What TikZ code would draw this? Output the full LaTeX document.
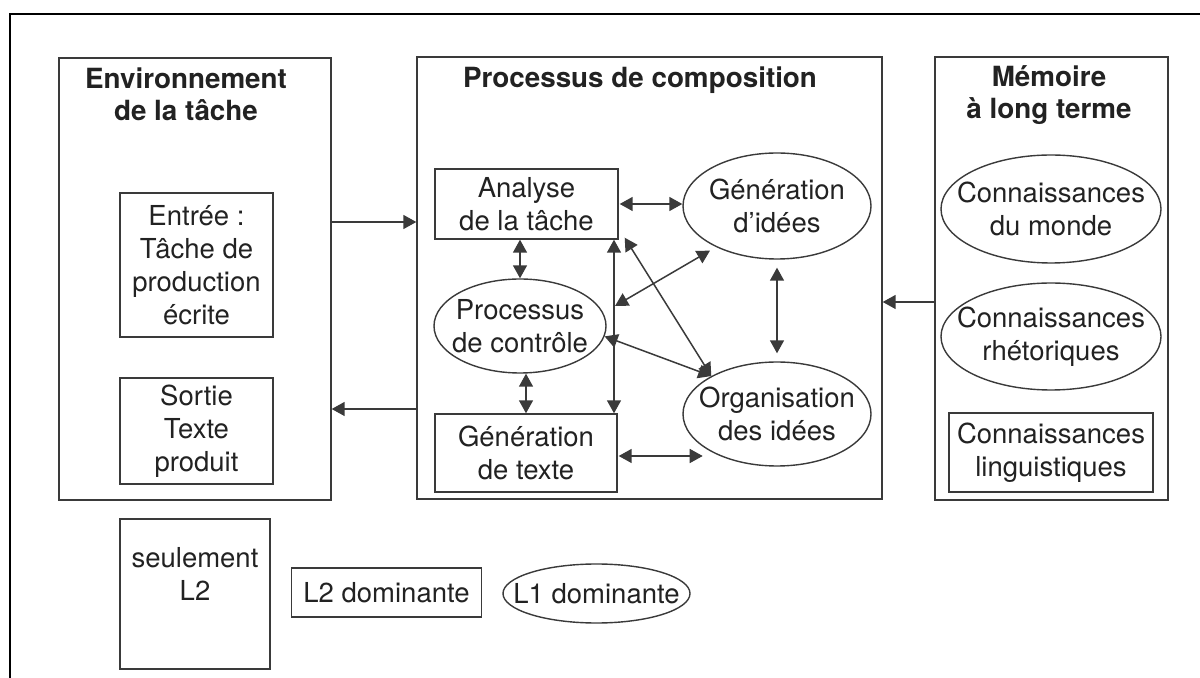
\documentclass[tikz,border=0pt]{standalone}
\usepackage{fontspec}
\setmainfont{TeX Gyre Heros}
\usetikzlibrary{shapes.geometric,arrows.meta,calc}
\definecolor{ln}{HTML}{3A3A3A}
\definecolor{tx}{HTML}{222222}
\newcommand\mybody{\fontsize{13.75}{16.5}\selectfont}
\newcommand\mytitle{\fontsize{13.9}{16}\selectfont\bfseries}
\begin{document}
\begin{tikzpicture}[x=0.5pt,y=-0.5pt,
  box/.style={draw=ln, line width=0.7pt, rectangle, inner sep=0pt, align=center, text=tx, font=\mybody},
  ell/.style={draw=ln, line width=0.7pt, ellipse, inner sep=0pt},
  lbl/.style={align=center, text=tx, font=\mybody, inner sep=0pt},
  ttl/.style={align=center, text=tx, font=\mytitle, inner sep=0pt},
  arr/.style={draw=ln, line width=0.75pt, -{Triangle[length=6.5pt,width=7pt]}},
  darr/.style={draw=ln, line width=0.75pt, {Triangle[length=6.5pt,width=7pt]}-{Triangle[length=6.5pt,width=7pt]}}
]
\useasboundingbox (0,0) rectangle (1200,678);
\fill[white] (0,0) rectangle (1200,678);
% outer frame
\draw[line width=1pt, black] (1200,14) -- (10,14) -- (10,678);

% three main boxes
\node[box, minimum width=136pt, minimum height=221pt] (env) at (195,279) {};
\node[box, minimum width=232.5pt, minimum height=221pt] (proc) at (649.5,278) {};
\node[box, minimum width=116.5pt, minimum height=221.5pt] (mem) at (1051.5,278.5) {};

\node[ttl] (envt) at (186,94) {Environnement\\de la tâche};
\node[ttl] (proct) at (640,80) {Processus de composition};
\node[ttl] (memt) at (1049,95) {Mémoire\\à long terme};

% environment
\node[box, minimum width=76.5pt, minimum height=72pt] (ent) at (196.5,265) {Entrée :\\Tâche de\\production\\écrite};
\node[box, minimum width=76.5pt, minimum height=53pt] (sor) at (196.5,431) {Sortie\\Texte\\produit};

% process
\node[box, minimum width=91.5pt, minimum height=35pt] (ana) at (526.5,204) {Analyse\\de la tâche};
\node[ell, minimum width=94pt, minimum height=53pt, label={[lbl]center:{Génération\\d’idées}}] (gi) at (777,206) {};
\node[ell, minimum width=86pt, minimum height=47pt, label={[lbl]center:{Processus\\de contrôle}}] (pc) at (520,326) {};
\node[box, minimum width=91pt, minimum height=39pt] (gt) at (526,453) {Génération\\de texte};
\node[ell, minimum width=94pt, minimum height=52pt, label={[lbl]center:{Organisation\\des idées}}] (org) at (777,414) {};

% memory
\node[ell, minimum width=110pt, minimum height=54pt, label={[lbl]center:{Connaissances\\du monde}}] (cm) at (1051,209) {};
\node[ell, minimum width=110pt, minimum height=53.5pt, label={[lbl]center:{Connaissances\\rhétoriques}}] (cr) at (1051,336.5) {};
\node[box, minimum width=102pt, minimum height=39.5pt] (cl) at (1051,452.5) {Connaissances\\linguistiques};

% legend
\node[box, minimum width=75pt, minimum height=75pt] (seul) at (195,594) {seulement\\L2\\[4pt]};
\node[box, minimum width=95pt, minimum height=24.5pt] (l2) at (386.5,592.5) {L2 dominante};
\node[ell, minimum width=93.5pt, minimum height=29.5pt, label={[lbl]center:{L1 dominante}}] (l1) at (596.5,593.5) {};

% outer connectors
\coordinate (yin) at (0,222);
\coordinate (yout) at (0,409);
\coordinate (ymem) at (0,302);
\draw[arr] (env.east |- yin) -- (proc.west |- yin);
\draw[arr] (proc.west |- yout) -- (env.east |- yout);
\draw[arr] (mem.west |- ymem) -- (proc.east |- ymem);

% inner connectors
\coordinate (vx) at (614,0);
\coordinate (j1) at (615,306);
\draw[darr] ($(ana.east)+(1,0)$) -- (ana.east -| gi.west);
\draw[darr] (pc.north |- ana.south) -- (pc.north);
\draw[darr] (gt.north |- pc.south) -- (gt.north);
\draw[darr] (vx |- ana.south) -- (vx |- gt.north);
\draw[darr, shorten >=3.5pt] (j1) -- (gi.214);
\draw[darr] (pc.-7) -- (org.150);
\draw[darr] ($(ana.south east)+(6,-2)$) -- (org.150);
\draw[darr, shorten <=4pt, shorten >=4pt] (gi.south) -- (org.north);
\draw[darr] ($(gt.east)+(1,3)$) -- ++(84,0);
\end{tikzpicture}
\end{document}
